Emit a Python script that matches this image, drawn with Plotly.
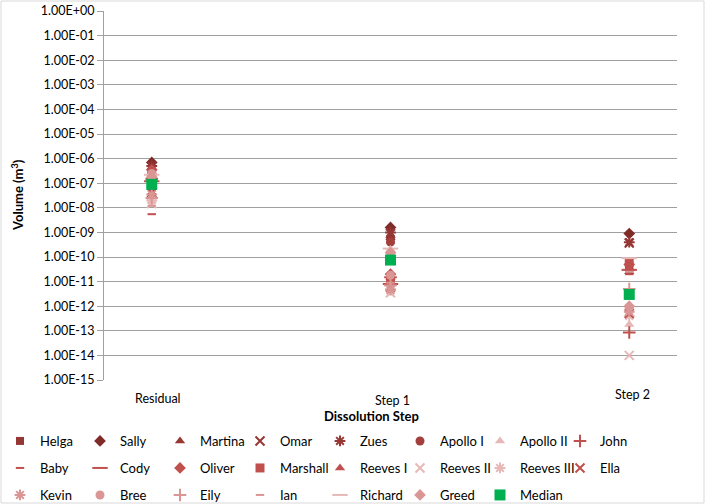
import plotly.graph_objects as go

# ---------------- data ----------------
steps = ["Residual", "Step 1", "Step 2"]
step_x = [1, 2, 3]

names = ["Helga", "Sally", "Martina", "Omar", "Zues", "Apollo I", "Apollo II", "John",
         "Baby", "Cody", "Oliver", "Marshall", "Reeves I", "Reeves II", "Reeves III", "Ella",
         "Kevin", "Bree", "Eily", "Ian", "Richard", "Greed", "Median"]

Helga = [3e-7, 5e-10, 4e-11]
Sally = [7e-7, 1.6e-9, 9e-10]
Martina = [4.5e-7, 6e-10, 2.5e-11]
Omar = [4e-8, 9e-10, 3.7e-10]
Zues = [5e-7, 1e-9, 4e-10]
Apollo_I = [2.5e-7, 4e-10, 3e-11]
Apollo_II = [2e-8, 2e-10, 1.8e-13]
John = [1.5e-7, 1.5e-11, 8.5e-14]
Baby = [5.5e-9, 1e-11, 2e-11]
Cody = [1.2e-7, 8e-12, 3e-11]
Oliver = [3.5e-7, 2e-11, 5e-11]
Marshall = [2e-7, 1.2e-11, 6e-11]
Reeves_I = [1.8e-7, 1.5e-11, 3.5e-11]
Reeves_II = [1.5e-8, 3.5e-12, 1e-14]
Reeves_III = [2e-8, 5e-12, 4e-13]
Ella = [5e-8, 6e-12, 5e-13]
Kevin = [3.5e-8, 4.5e-12, 6e-13]
Bree = [2.5e-7, 1.8e-11, 9e-13]
Eily = [2.5e-8, 7e-12, 5e-12]
Ian = [1.2e-8, 9e-12, 2.5e-11]
Richard = [2.2e-7, 2.2e-10, 9e-11]
Greed = [1.8e-7, 1.5e-10, 1e-12]
Median = [9e-8, 7.5e-11, 3e-12]

series_values = [Helga, Sally, Martina, Omar, Zues, Apollo_I, Apollo_II, John,
                 Baby, Cody, Oliver, Marshall, Reeves_I, Reeves_II, Reeves_III, Ella,
                 Kevin, Bree, Eily, Ian, Richard, Greed, Median]

y_tick_exponents = list(range(0, -16, -1))
y_tick_labels = ["1.00E+00"] + ["1.00E-%02d" % (-e) for e in y_tick_exponents[1:]]

# ---------------- styles ----------------
D50, D25, ACC, L40, L60 = "#7F2B28", "#953735", "#C0504D", "#D99694", "#E6B9B8"
styles = {
    "Helga": ("square", D25, 8),
    "Sally": ("diamond", D50, 9),
    "Martina": ("triangle-up", D25, 9),
    "Omar": ("x-thin-open", D25, 9),
    "Zues": ("asterisk-open", D25, 9),
    "Apollo I": ("circle", "#A33F3C", 9),
    "Apollo II": ("triangle-up", L60, 9),
    "John": ("cross-thin-open", ACC, 9),
    "Baby": ("line-ew-open", ACC, 6),
    "Cody": ("line-ew-open", ACC, 11),
    "Oliver": ("diamond", ACC, 9),
    "Marshall": ("square", ACC, 9),
    "Reeves I": ("triangle-up", ACC, 9),
    "Reeves II": ("x-thin-open", L60, 9),
    "Reeves III": ("asterisk-open", L60, 9),
    "Ella": ("x-thin-open", ACC, 9),
    "Kevin": ("asterisk-open", L40, 9),
    "Bree": ("circle", L40, 9),
    "Eily": ("cross-thin-open", L40, 9),
    "Ian": ("line-ew-open", L40, 6),
    "Richard": ("line-ew-open", L60, 11),
    "Greed": ("diamond", L40, 9),
    "Median": ("square", "#00B050", 11),
}

FONT = "Lato, 'Open Sans', Arial, sans-serif"

fig = go.Figure()
for i, (nm, vals) in enumerate(zip(names, series_values)):
    sym, col, sz = styles[nm]
    open_sym = sym.endswith("-open")
    legend_id = "legend" if i < 8 else ("legend2" if i < 16 else "legend3")
    fig.add_trace(go.Scatter(
        x=step_x, y=vals, name=nm, mode="markers",
        legend=legend_id,
        legendwidth=70 if nm == "Median" else None,
        marker=dict(symbol=sym, color=col, size=sz,
                    line=dict(color=col, width=2 if open_sym else 0)),
    ))

# plot area in px: left 104, right 677, top 11, bottom 380
L, R, T, B = 104, 677, 11, 380
W, H = R - L, B - T
def px(xp):
    return (xp - L) / W
def py(yp):
    return (B - yp) / H

legend_common = dict(orientation="h", xanchor="left", yanchor="middle",
                     entrywidth=35, font=dict(family=FONT, size=13, color="#000"),
                     bgcolor="rgba(0,0,0,0)", itemwidth=30, traceorder="normal")
fig.update_layout(
    legend=dict(x=px(0), y=py(441), **legend_common),
    legend2=dict(x=px(0), y=py(468), **legend_common),
    legend3=dict(x=px(0), y=py(495), **legend_common),
)

fig.update_layout(
    width=711, height=504,
    margin=dict(l=L, r=711 - R, t=T, b=504 - B, autoexpand=False),
    paper_bgcolor="white", plot_bgcolor="white",
    font=dict(family=FONT, size=12, color="#000"),
    showlegend=True,
    xaxis=dict(range=[0.8, 3.2], showgrid=False, zeroline=False,
               showticklabels=False, ticks="", showline=False, fixedrange=True),
    yaxis=dict(type="log", range=[-15, 0],
               tickvals=[10.0 ** e for e in y_tick_exponents],
               ticktext=y_tick_labels,
               showgrid=True, gridcolor="#A0A0A0", gridwidth=1,
               showline=True, linecolor="#A0A0A0", linewidth=1,
               ticks="outside", ticklen=6, tickcolor="#A0A0A0",
               tickfont=dict(family=FONT, size=12.5, color="#000"),
               zeroline=False),
)

# category labels (placed like the original text boxes)
label_pos = [(158, 398), (392, 400), (632, 394)]
for lab, (lx, ly) in zip(steps, label_pos):
    fig.add_annotation(text=lab, x=px(lx), y=py(ly), xref="paper", yref="paper",
                       showarrow=False, xanchor="center", yanchor="middle",
                       font=dict(family=FONT, size=12.5, color="#000"))

fig.add_annotation(text="<b>Dissolution Step</b>", x=px(371), y=py(416),
                   xref="paper", yref="paper", showarrow=False,
                   xanchor="center", yanchor="middle",
                   font=dict(family=FONT, size=13, color="#000"))
fig.add_annotation(text="<b>Volume (m<sup>3</sup>)</b>", x=px(17), y=py(195),
                   xref="paper", yref="paper", showarrow=False, textangle=-90,
                   xanchor="center", yanchor="middle",
                   font=dict(family=FONT, size=13, color="#000"))

# outer chart border
fig.add_shape(type="rect", xref="paper", yref="paper",
              x0=px(1), x1=px(704), y0=py(503), y1=py(1),
              line=dict(color="#D9D9D9", width=1), fillcolor="rgba(0,0,0,0)", layer="below")

fig.write_html("out.html")
